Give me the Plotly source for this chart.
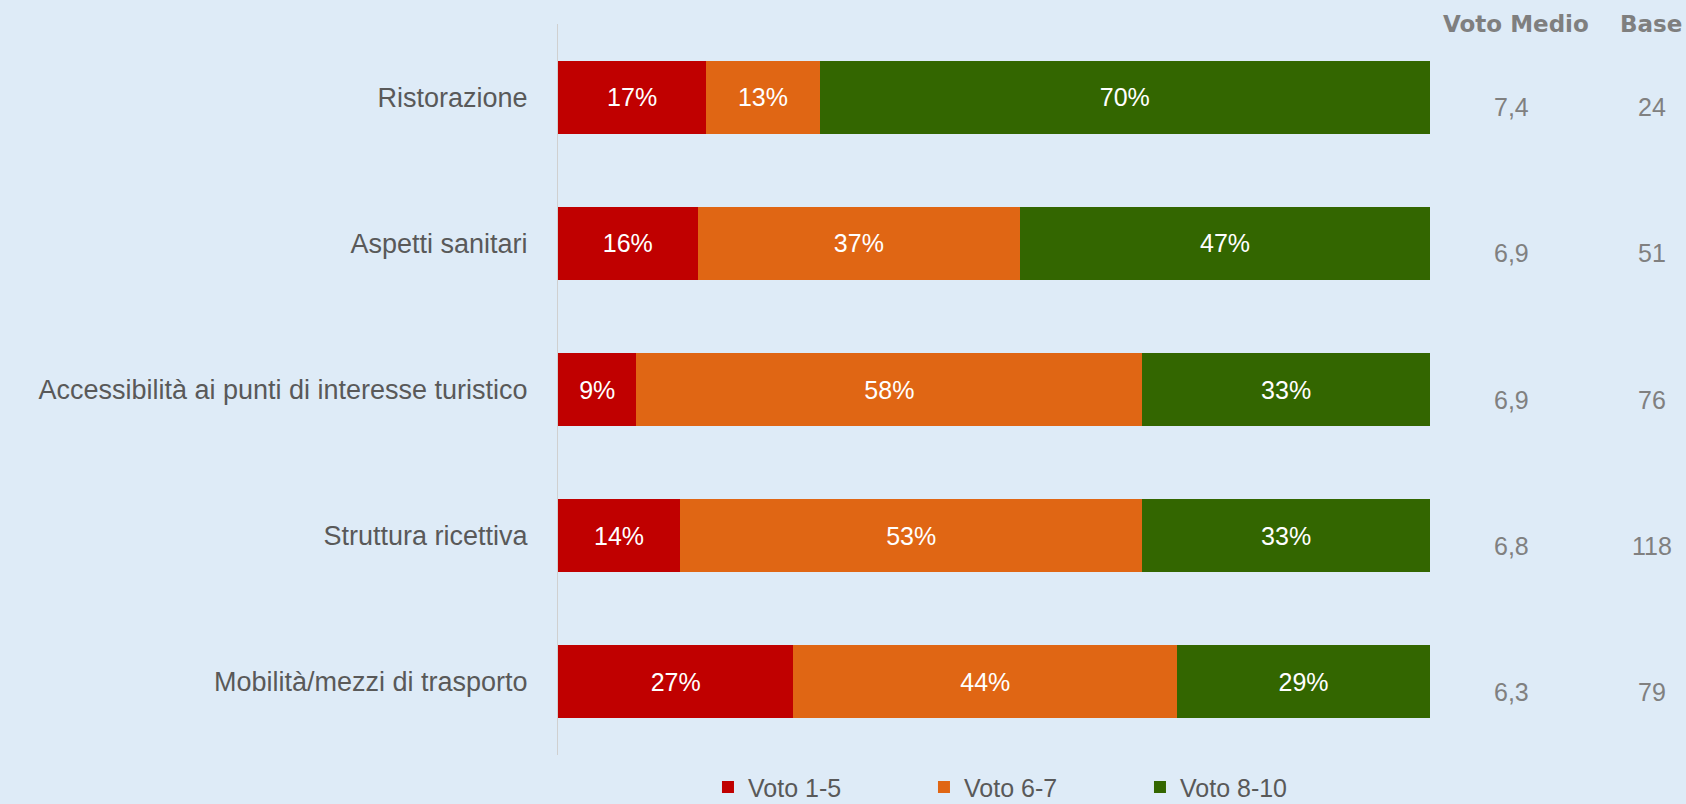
import plotly.graph_objects as go

categories = ["Ristorazione", "Aspetti sanitari", "Accessibilità ai punti di interesse turistico",
              "Struttura ricettiva", "Mobilità/mezzi di trasporto"]
voto_1_5 = [17, 16, 9, 14, 27]
voto_6_7 = [13, 37, 58, 53, 44]
voto_8_10 = [70, 47, 33, 33, 29]
voto_medio = ["7,4", "6,9", "6,9", "6,8", "6,3"]
base = ["24", "51", "76", "118", "79"]
series_names = ["Voto 1-5", "Voto 6-7", "Voto 8-10"]
colors = ["#C00000", "#E06614", "#336600"]

BG = "#DEEBF7"
FONT = "Liberation Sans, Arial, sans-serif"

fig = go.Figure()
for name, vals, col in zip(series_names, [voto_1_5, voto_6_7, voto_8_10], colors):
    fig.add_trace(go.Bar(
        y=categories, x=vals, name=name, orientation="h",
        marker=dict(color=col, line=dict(width=0)),
        text=[f"{v}%" for v in vals], textposition="inside",
        insidetextanchor="middle", constraintext="none",
        textfont=dict(color="white", size=25, family=FONT),
        hoverinfo="skip",
    ))

# right columns
for cat, vm, b in zip(categories, voto_medio, base):
    fig.add_annotation(x=1.093, y=cat, xref="paper", yref="y", text=vm, showarrow=False,
                       xanchor="center", yshift=-10,
                       font=dict(size=25, color="#808080", family=FONT))
    fig.add_annotation(x=1.255, y=cat, xref="paper", yref="y", text=b, showarrow=False,
                       xanchor="center", yshift=-10,
                       font=dict(size=25, color="#808080", family=FONT))
fig.add_annotation(x=1.099, y=1.0, xref="paper", yref="paper", text="<b>Voto Medio</b>",
                   showarrow=False, xanchor="center", yanchor="middle",
                   font=dict(size=23, color="#7F7F7F", family="DejaVu Sans, sans-serif"))
fig.add_annotation(x=1.2535, y=1.0, xref="paper", yref="paper", text="<b>Base</b>",
                   showarrow=False, xanchor="center", yanchor="middle",
                   font=dict(size=23, color="#7F7F7F", family="DejaVu Sans, sans-serif"))

fig.update_layout(
    width=1686, height=804,
    paper_bgcolor=BG, plot_bgcolor=BG,
    barmode="stack", bargap=0.5,
    margin=dict(l=558, r=256, t=24, b=49, autoexpand=False),
    showlegend=True,
    legend=dict(orientation="h", x=0.172, y=-0.044, xanchor="left", yanchor="middle",
                traceorder="normal",
                font=dict(size=25, color="#595959", family=FONT),
                entrywidth=171, entrywidthmode="pixels", itemwidth=30,
                bgcolor="rgba(0,0,0,0)"),
    xaxis=dict(range=[0, 100], showticklabels=False, showgrid=False, zeroline=False,
               showline=False, fixedrange=True),
    yaxis=dict(autorange="reversed", showgrid=False, zeroline=False, fixedrange=True,
               showline=True, linecolor="#D0D0D0", linewidth=1,
               ticks="", ticklabelstandoff=24,
               tickfont=dict(size=27, color="#595959", family=FONT)),
)

fig.write_html("out.html", config={"displayModeBar": False},
               post_script="document.body.style.margin='0';document.body.style.padding='0';")
